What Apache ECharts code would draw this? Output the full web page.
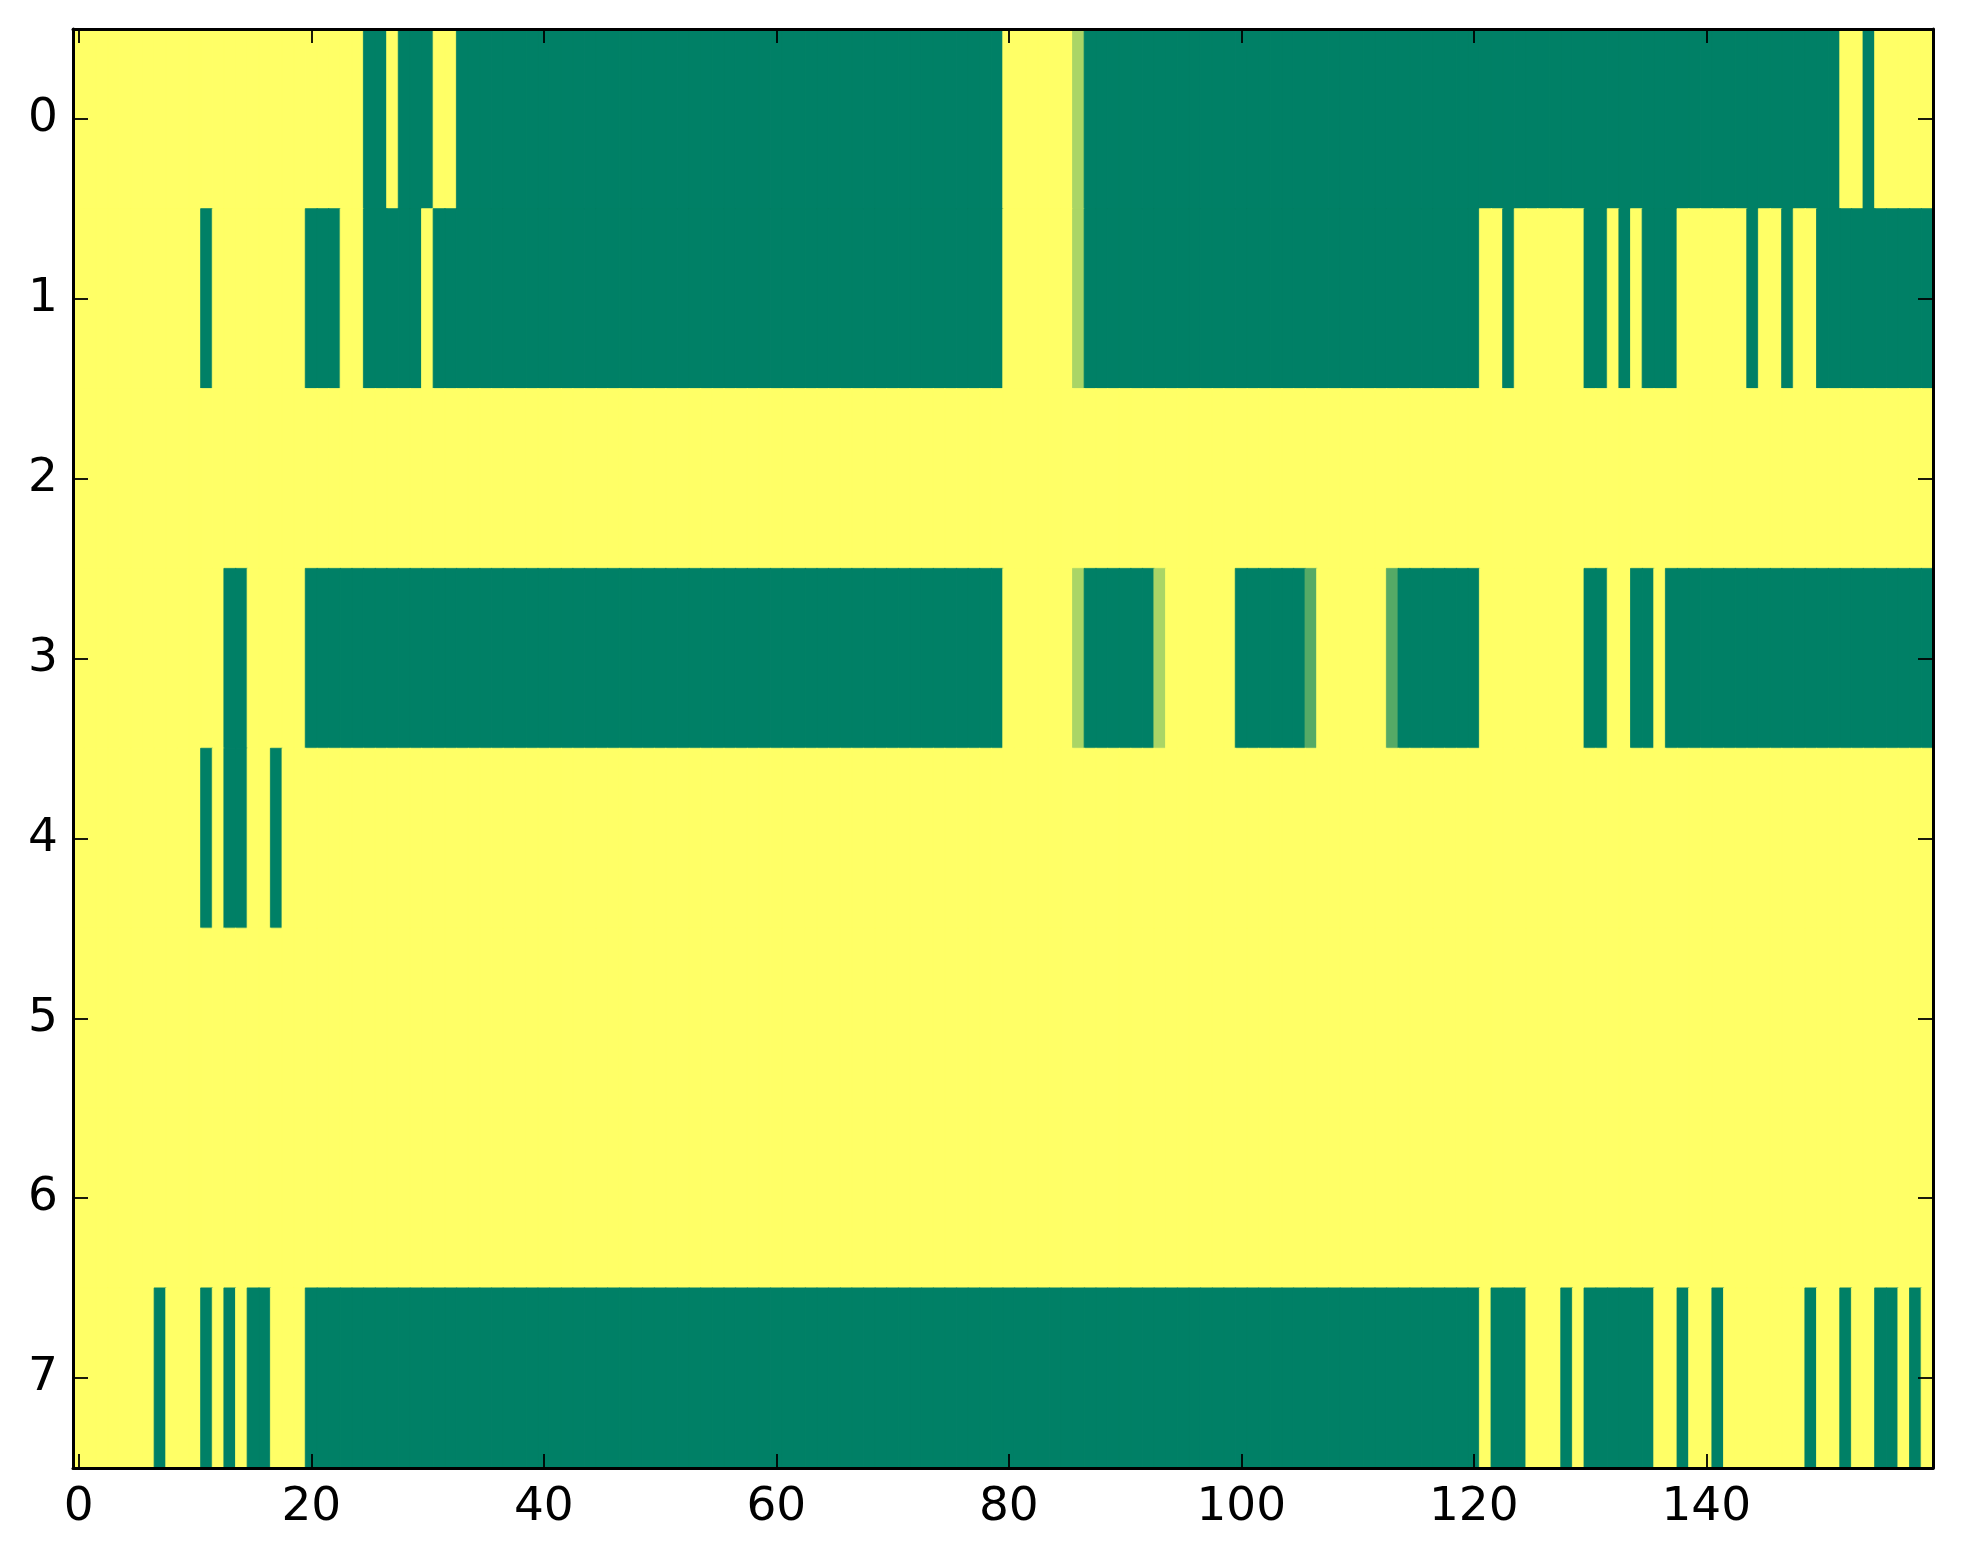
<!DOCTYPE html>
<html>
<head>
<meta charset="utf-8">
<script src="https://cdn.jsdelivr.net/npm/echarts@6/dist/echarts.min.js"></script>
<style>
html,body{margin:0;padding:0;background:#fff;}
#chart{width:1963px;height:1564px;}
</style>
</head>
<body>
<div id="chart"></div>
<script>
// Column categories 0..159 and row categories 0..7
var xCategories = [];
for (var c = 0; c < 160; c++) xCategories.push(String(c));
var yCategories = ['0','1','2','3','4','5','6','7'];

// Cell values per row, in thirds (0 = 0, 1 = 1/3, 2 = 2/3, 3 = 1), groups of 10 columns
var row0 = "3333333333 3333333333 3333300300 0330000000 0000000000 0000000000 0000000000 0000000000 3333332000 0000000000 0000000000 0000000000 0000000000 0000000000 0000000000 0033033333";
var row1 = "3333333333 3033333333 0003300000 3000000000 0000000000 0000000000 0000000000 0000000000 3333332000 0000000000 0000000000 0000000000 0330333333 0030300033 3333033033 0000000000";
var row2 = "3333333333 3333333333 3333333333 3333333333 3333333333 3333333333 3333333333 3333333333 3333333333 3333333333 3333333333 3333333333 3333333333 3333333333 3333333333 3333333333";
var row3 = "3333333333 3330033333 0000000000 0000000000 0000000000 0000000000 0000000000 0000000000 3333332000 0002333333 0000001333 3331000000 0333333333 0033003000 0000000000 0000000000";
var row4 = "3333333333 3030033033 3333333333 3333333333 3333333333 3333333333 3333333333 3333333333 3333333333 3333333333 3333333333 3333333333 3333333333 3333333333 3333333333 3333333333";
var row5 = "3333333333 3333333333 3333333333 3333333333 3333333333 3333333333 3333333333 3333333333 3333333333 3333333333 3333333333 3333333333 3333333333 3333333333 3333333333 3333333333";
var row6 = "3333333333 3333333333 3333333333 3333333333 3333333333 3333333333 3333333333 3333333333 3333333333 3333333333 3333333333 3333333333 3333333333 3333333333 3333333333 3333333333";
var row7 = "3333333033 3030300333 0000000000 0000000000 0000000000 0000000000 0000000000 0000000000 0000000000 0000000000 0000000000 0000000000 0300033303 0000003303 3033333330 3303300303";

var xTickLabels = ['0','20','40','60','80','100','120','140'];

// 'summer' colormap endpoints (linear)
var C0 = [0, 128, 102], C1 = [255, 255, 102];
function summer(v){
  var r = Math.round(C0[0] + (C1[0]-C0[0])*v);
  var g = Math.round(C0[1] + (C1[1]-C0[1])*v);
  var b = Math.round(C0[2] + (C1[2]-C0[2])*v);
  return 'rgb(' + r + ',' + g + ',' + b + ')';
}

var rows = [row0,row1,row2,row3,row4,row5,row6,row7];
var cells = [];
rows.forEach(function(r, yi){
  var s = r.replace(/\s+/g,'');
  for (var xi = 0; xi < s.length; xi++) {
    var v = Number(s[xi]) / 3;
    var col = summer(v);
    cells.push({value:[xi, yi, v], itemStyle:{color:col, borderColor:col, borderWidth:0.8}});
  }
});

var FONT = 'DejaVu Sans';
var tickEvery20 = function(i){ return xTickLabels.indexOf(String(i)) >= 0; };

var chart = echarts.init(document.getElementById('chart'), null, {renderer:'canvas'});
chart.setOption({
  animation:false,
  backgroundColor:'#ffffff',
  grid:{left:73, right:30, top:29, height:1439, containLabel:false},
  visualMap:{show:false, min:0, max:1, dimension:2, inRange:{color:['#008066','#ffff66']}},
  xAxis:[{
    type:'category', data:xCategories, position:'bottom', z:10,
    axisLine:{show:true, lineStyle:{color:'#000', width:3}},
    axisTick:{show:true, inside:true, length:14, alignWithLabel:true, interval:function(i){return tickEvery20(i);}, lineStyle:{color:'#000', width:1.8}},
    axisLabel:{interval:function(i){return tickEvery20(i);}, fontFamily:FONT, fontSize:47, color:'#000', margin:16},
    splitLine:{show:false}
  },{
    type:'category', data:xCategories, position:'top', z:10,
    axisLine:{show:true, lineStyle:{color:'#000', width:3}},
    axisTick:{show:true, inside:true, length:14, alignWithLabel:true, interval:function(i){return tickEvery20(i);}, lineStyle:{color:'#000', width:1.8}},
    axisLabel:{show:false},
    splitLine:{show:false}
  }],
  yAxis:[{
    type:'category', data:yCategories, inverse:true, position:'left', z:10,
    axisLine:{show:true, lineStyle:{color:'#000', width:3}},
    axisTick:{show:true, inside:true, length:15, alignWithLabel:true, lineStyle:{color:'#000', width:1.8}},
    axisLabel:{fontFamily:FONT, fontSize:47, color:'#000', margin:15},
    splitLine:{show:false}
  },{
    type:'category', data:yCategories, inverse:true, position:'right', z:10,
    axisLine:{show:true, lineStyle:{color:'#000', width:3}},
    axisTick:{show:true, inside:true, length:15, alignWithLabel:true, lineStyle:{color:'#000', width:1.8}},
    axisLabel:{show:false},
    splitLine:{show:false}
  }],
  series:[{
    type:'heatmap', xAxisIndex:0, yAxisIndex:0,
    data:cells, progressive:0,
    emphasis:{disabled:true}
  }]
});
</script>
</body>
</html>
